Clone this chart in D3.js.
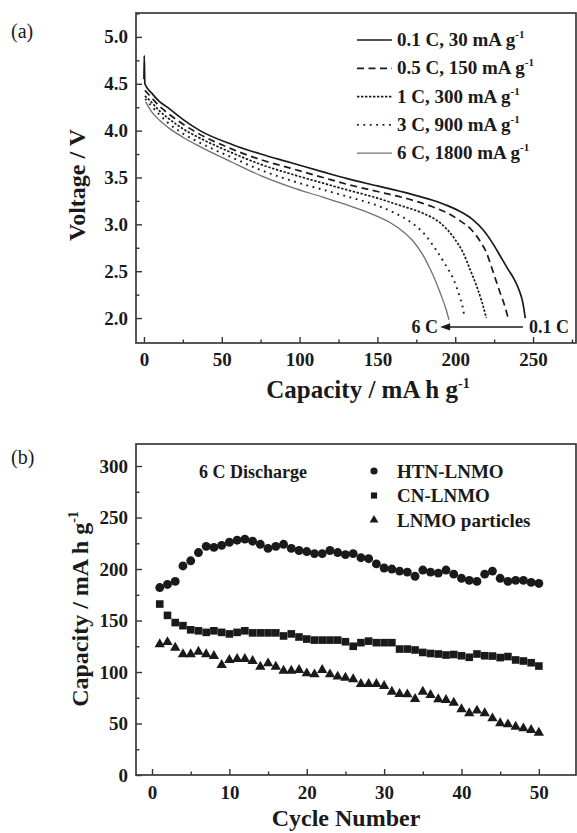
<!DOCTYPE html>
<html>
<head>
<meta charset="utf-8">
<script src="https://cdn.jsdelivr.net/npm/d3@7"></script>
<style>
  html, body { margin: 0; padding: 0; background: #fff; }
  svg { display: block; }
  text { font-family: "Liberation Serif", "Times New Roman", serif; fill: #1a1a1a; }
</style>
</head>
<body>
<svg id="chart" width="577" height="833"></svg>
<script>
// ---- (a) discharge profiles: [capacity mA h g-1, voltage V] ----
const rateNames = ["0.1 C, 30 mA g", "0.5 C, 150 mA g", "1 C, 300 mA g", "3 C, 900 mA g", "6 C, 1800 mA g"];
const curve01C = [[0,4.55],[0.2,4.8],[0.6,4.5],[5,4.4],[10,4.31],[15,4.25],[25,4.12],[36,4.0],[57,3.85],[75,3.75],[94,3.66],[115,3.56],[130,3.49],[150,3.41],[170,3.33],[185,3.26],[195,3.2],[205,3.12],[212,3.04],[218,2.94],[224,2.8],[229,2.66],[234,2.52],[238,2.41],[241,2.3],[243.5,2.16],[245,2.0]];
const curve05C = [[0.6,4.43],[5,4.35],[10,4.26],[15,4.19],[25,4.07],[36,3.96],[57,3.8],[75,3.69],[94,3.6],[115,3.5],[130,3.43],[150,3.35],[170,3.27],[185,3.19],[195,3.12],[203,3.04],[210,2.95],[216,2.82],[220,2.7],[224,2.51],[228,2.31],[232,2.12],[234,2.0]];
const curve1C  = [[0.6,4.37],[5,4.3],[10,4.21],[15,4.14],[25,4.02],[36,3.92],[57,3.76],[75,3.64],[94,3.54],[115,3.44],[130,3.37],[150,3.28],[165,3.2],[179,3.12],[190,3.02],[199,2.86],[205,2.7],[210,2.5],[214,2.33],[217,2.18],[220,2.0]];
const curve3C  = [[0.8,4.34],[5,4.26],[10,4.17],[15,4.09],[25,3.97],[36,3.87],[57,3.71],[75,3.58],[94,3.47],[115,3.37],[130,3.3],[150,3.2],[160,3.13],[169,3.05],[180,2.9],[188,2.72],[194,2.56],[199,2.41],[203,2.22],[205,2.1],[206,2.0]];
const curve6C  = [[1,4.31],[5,4.2],[10,4.11],[15,4.04],[25,3.93],[36,3.83],[57,3.66],[75,3.52],[94,3.4],[115,3.29],[130,3.21],[145,3.12],[158,3.02],[166,2.93],[173,2.82],[179,2.68],[184,2.52],[188,2.37],[191,2.24],[194,2.1],[196,1.98]];
const capTicksA = [0, 50, 100, 150, 200, 250];
const capMinorA = [25, 75, 125, 175, 225, 275];
const voltTicks = [2.0, 2.5, 3.0, 3.5, 4.0, 4.5, 5.0];
const voltMinor = [2.25, 2.75, 3.25, 3.75, 4.25, 4.75, 5.25];

// ---- (b) 6 C cycling ----
const seriesNames = ["HTN-LNMO", "CN-LNMO", "LNMO particles"];
const cycles = [1,2,3,4,5,6,7,8,9,10,11,12,13,14,15,16,17,18,19,20,21,22,23,24,25,26,27,28,29,30,31,32,33,34,35,36,37,38,39,40,41,42,43,44,45,46,47,48,49,50];
const htnLNMO = [182,185,188,203,208,216,222,221,223,226,228,229,227,224,220,222,224,220,218,217,215,215,218,216,214,215,211,210,205,201,200,198,197,193,199,197,196,199,195,191,189,188,195,198,191,188,189,189,187,186];
const cnLNMO = [166,155,148,145,141,140,138.5,140,138.5,137,138.5,140,138,138,138,138,135,137,134,132,131,131,131,131,129.4,125,128.5,130,128.5,128.5,128.5,122.3,122.3,121.4,119,118,117.5,116.5,117,115.8,114.3,117.5,115.8,115.5,114,115,111.7,110.7,109,105.8];
const lnmoParticles = [127,129,123.6,117.2,117.2,119.7,117.2,115.5,106.8,111.7,112.6,112.6,110.7,105.2,108.4,105.2,101.3,101.3,101.9,98.7,97.7,101.9,97.7,95.5,94.5,92.9,88.3,88.3,88.3,86.4,80.9,78.6,78.3,73.8,80.9,77.7,73.5,72.8,70.2,63.8,59.9,62.5,59.9,55,50.2,49.2,46.9,45.3,43.7,41.1];
const cycleTicks = [0, 10, 20, 30, 40, 50];
const cycleMinor = [5, 15, 25, 35, 45];
const capTicksB = [0, 50, 100, 150, 200, 250, 300];
const capMinorB = [25, 75, 125, 175, 225, 275];

const svg = d3.select("#chart");
const ink = "#1a1a1a";

// plot frames
const frameA = { left: 136, right: 576, top: 13, bottom: 343 };
const frameB = { left: 136, right: 576, top: 444, bottom: 775 };

const xA = d3.scaleLinear().domain([-5.1, 277.6]).range([frameA.left, frameA.right]);
const yA = d3.scaleLinear().domain([1.734, 5.255]).range([frameA.bottom, frameA.top]);
const xB = d3.scaleLinear().domain([-2.07, 54.8]).range([frameB.left, frameB.right]);
const yB = d3.scaleLinear().domain([0, 321.4]).range([frameB.bottom, frameB.top]);

function drawAxes(frame, x, y, xMajor, xMinor, yMajor, yMinor, xFmt, yFmt, xPad) {
  const g = svg.append("g");
  const styleAxis = sel => {
    sel.select(".domain").remove();
    sel.selectAll(".tick line").attr("stroke", "#333").attr("stroke-width", 1.4);
    sel.selectAll(".tick text")
      .attr("font-size", 19).attr("font-weight", "bold")
      .attr("font-family", "Liberation Serif, Times New Roman, serif").attr("fill", ink);
  };
  g.append("g").attr("transform", `translate(0,${frame.bottom})`)
    .call(d3.axisBottom(x).tickValues(xMajor).tickSize(-6).tickPadding(xPad).tickFormat(xFmt))
    .call(styleAxis);
  g.append("g").attr("transform", `translate(0,${frame.bottom})`)
    .call(d3.axisBottom(x).tickValues(xMinor).tickSize(-3.5).tickFormat(""))
    .call(styleAxis);
  g.append("g").attr("transform", `translate(${frame.left},0)`)
    .call(d3.axisLeft(y).tickValues(yMajor).tickSize(-6).tickPadding(8).tickFormat(yFmt))
    .call(styleAxis);
  g.append("g").attr("transform", `translate(${frame.left},0)`)
    .call(d3.axisLeft(y).tickValues(yMinor).tickSize(-3.5).tickFormat(""))
    .call(styleAxis);
  g.append("rect")
    .attr("x", frame.left).attr("y", frame.top)
    .attr("width", frame.right - frame.left).attr("height", frame.bottom - frame.top)
    .attr("fill", "none").attr("stroke", "#3a3a3a").attr("stroke-width", 1.7);
}

// text followed by a raised, smaller "-1"
function unitText(sel, main, supSize, supDy) {
  sel.append("tspan").text(main);
  sel.append("tspan").attr("font-size", supSize).attr("dy", supDy).text("-1");
}

// ================= panel (a) =================
drawAxes(frameA, xA, yA, capTicksA, capMinorA, voltTicks, voltMinor, d3.format("d"), d3.format(".1f"), 10);

const rateStyles = [
  { dash: null, color: ink, width: 1.7 },
  { dash: "7,4.5", color: ink, width: 1.7 },
  { dash: "2.4,1.6", color: ink, width: 1.7 },
  { dash: "1.8,4.6", color: ink, width: 1.9 },
  { dash: null, color: "#707070", width: 1.3 }
];
const curves = [curve01C, curve05C, curve1C, curve3C, curve6C];
const line = d3.line().x(d => xA(d[0])).y(d => yA(d[1])).curve(d3.curveMonotoneX);

const gCurves = svg.append("g");
curves.forEach((c, i) => {
  gCurves.append("path")
    .attr("d", line(c))
    .attr("fill", "none")
    .attr("stroke", rateStyles[i].color)
    .attr("stroke-width", rateStyles[i].width)
    .attr("stroke-dasharray", rateStyles[i].dash);
});

// rate arrow from 0.1 C end to 6 C end
const arrowV = 1.905, arrowFrom = 243.5, arrowTo = 190.3;
svg.append("line")
  .attr("x1", xA(arrowFrom)).attr("x2", xA(arrowTo) + 8)
  .attr("y1", yA(arrowV)).attr("y2", yA(arrowV))
  .attr("stroke", ink).attr("stroke-width", 1.5);
svg.append("path")
  .attr("d", `M${xA(arrowTo)},${yA(arrowV)} l10,-3.6 l0,7.2 z`)
  .attr("fill", ink);
svg.append("text").attr("x", xA(arrowTo) - 2).attr("y", yA(arrowV) + 6)
  .attr("text-anchor", "end").attr("font-size", 18).attr("font-weight", "bold").text("6 C");
svg.append("text").attr("x", xA(arrowFrom) + 6).attr("y", yA(arrowV) + 6)
  .attr("text-anchor", "start").attr("font-size", 18).attr("font-weight", "bold").text("0.1 C");

// legend (a)
const legA = svg.append("g");
rateNames.forEach((name, i) => {
  const cy = 40 + i * 28.3;
  legA.append("line")
    .attr("x1", 357).attr("x2", 392).attr("y1", cy).attr("y2", cy)
    .attr("stroke", rateStyles[i].color)
    .attr("stroke-width", rateStyles[i].width)
    .attr("stroke-dasharray", rateStyles[i].dash);
  const t = legA.append("text").attr("x", 397).attr("y", cy + 6)
    .attr("font-size", 19).attr("font-weight", "bold");
  unitText(t, name, 11, -8);
});

// axis titles (a)
svg.append("text")
  .attr("transform", "translate(85,185) rotate(-90)")
  .attr("text-anchor", "middle").attr("font-size", 24).attr("font-weight", "bold")
  .text("Voltage / V");
const xtA = svg.append("text").attr("x", 368).attr("y", 398)
  .attr("text-anchor", "middle").attr("font-size", 25).attr("font-weight", "bold");
unitText(xtA, "Capacity / mA h g", 14, -10);

svg.append("text").attr("x", 11).attr("y", 38).attr("font-size", 20).text("(a)");

// ================= panel (b) =================
drawAxes(frameB, xB, yB, cycleTicks, cycleMinor, capTicksB, capMinorB, d3.format("d"), d3.format("d"), 11);

const seriesData = [htnLNMO, cnLNMO, lnmoParticles];
const symbols = [
  { type: d3.symbolCircle, size: 62, legendSize: 40 },
  { type: d3.symbolSquare, size: 58, legendSize: 38 },
  { type: d3.symbolTriangle, size: 46, legendSize: 34 }
];
const gPts = svg.append("g");
seriesData.forEach((vals, s) => {
  const sym = d3.symbol().type(symbols[s].type).size(symbols[s].size);
  gPts.append("g").selectAll("path")
    .data(cycles.map((c, i) => [c, vals[i]]))
    .join("path")
    .attr("transform", d => `translate(${xB(d[0])},${yB(d[1])})`)
    .attr("d", sym)
    .attr("fill", ink);
});

// legend (b)
const legB = svg.append("g");
seriesNames.forEach((name, s) => {
  const cy = 471 + s * 24.5;
  legB.append("path")
    .attr("transform", `translate(374,${cy})`)
    .attr("d", d3.symbol().type(symbols[s].type).size(symbols[s].legendSize))
    .attr("fill", ink);
  legB.append("text").attr("x", 397).attr("y", cy + 6.5)
    .attr("font-size", 19).attr("font-weight", "bold").text(name);
});
svg.append("text").attr("x", 199).attr("y", 478)
  .attr("font-size", 18).attr("font-weight", "bold").text("6 C Discharge");

// axis titles (b)
const ytB = svg.append("text")
  .attr("transform", "translate(88,609) rotate(-90)")
  .attr("text-anchor", "middle").attr("font-size", 24).attr("font-weight", "bold");
unitText(ytB, "Capacity / mA h g", 14, -10);
svg.append("text").attr("x", 346).attr("y", 826)
  .attr("text-anchor", "middle").attr("font-size", 24).attr("font-weight", "bold")
  .text("Cycle Number");

svg.append("text").attr("x", 11).attr("y", 464).attr("font-size", 20).text("(b)");
</script>
</body>
</html>
